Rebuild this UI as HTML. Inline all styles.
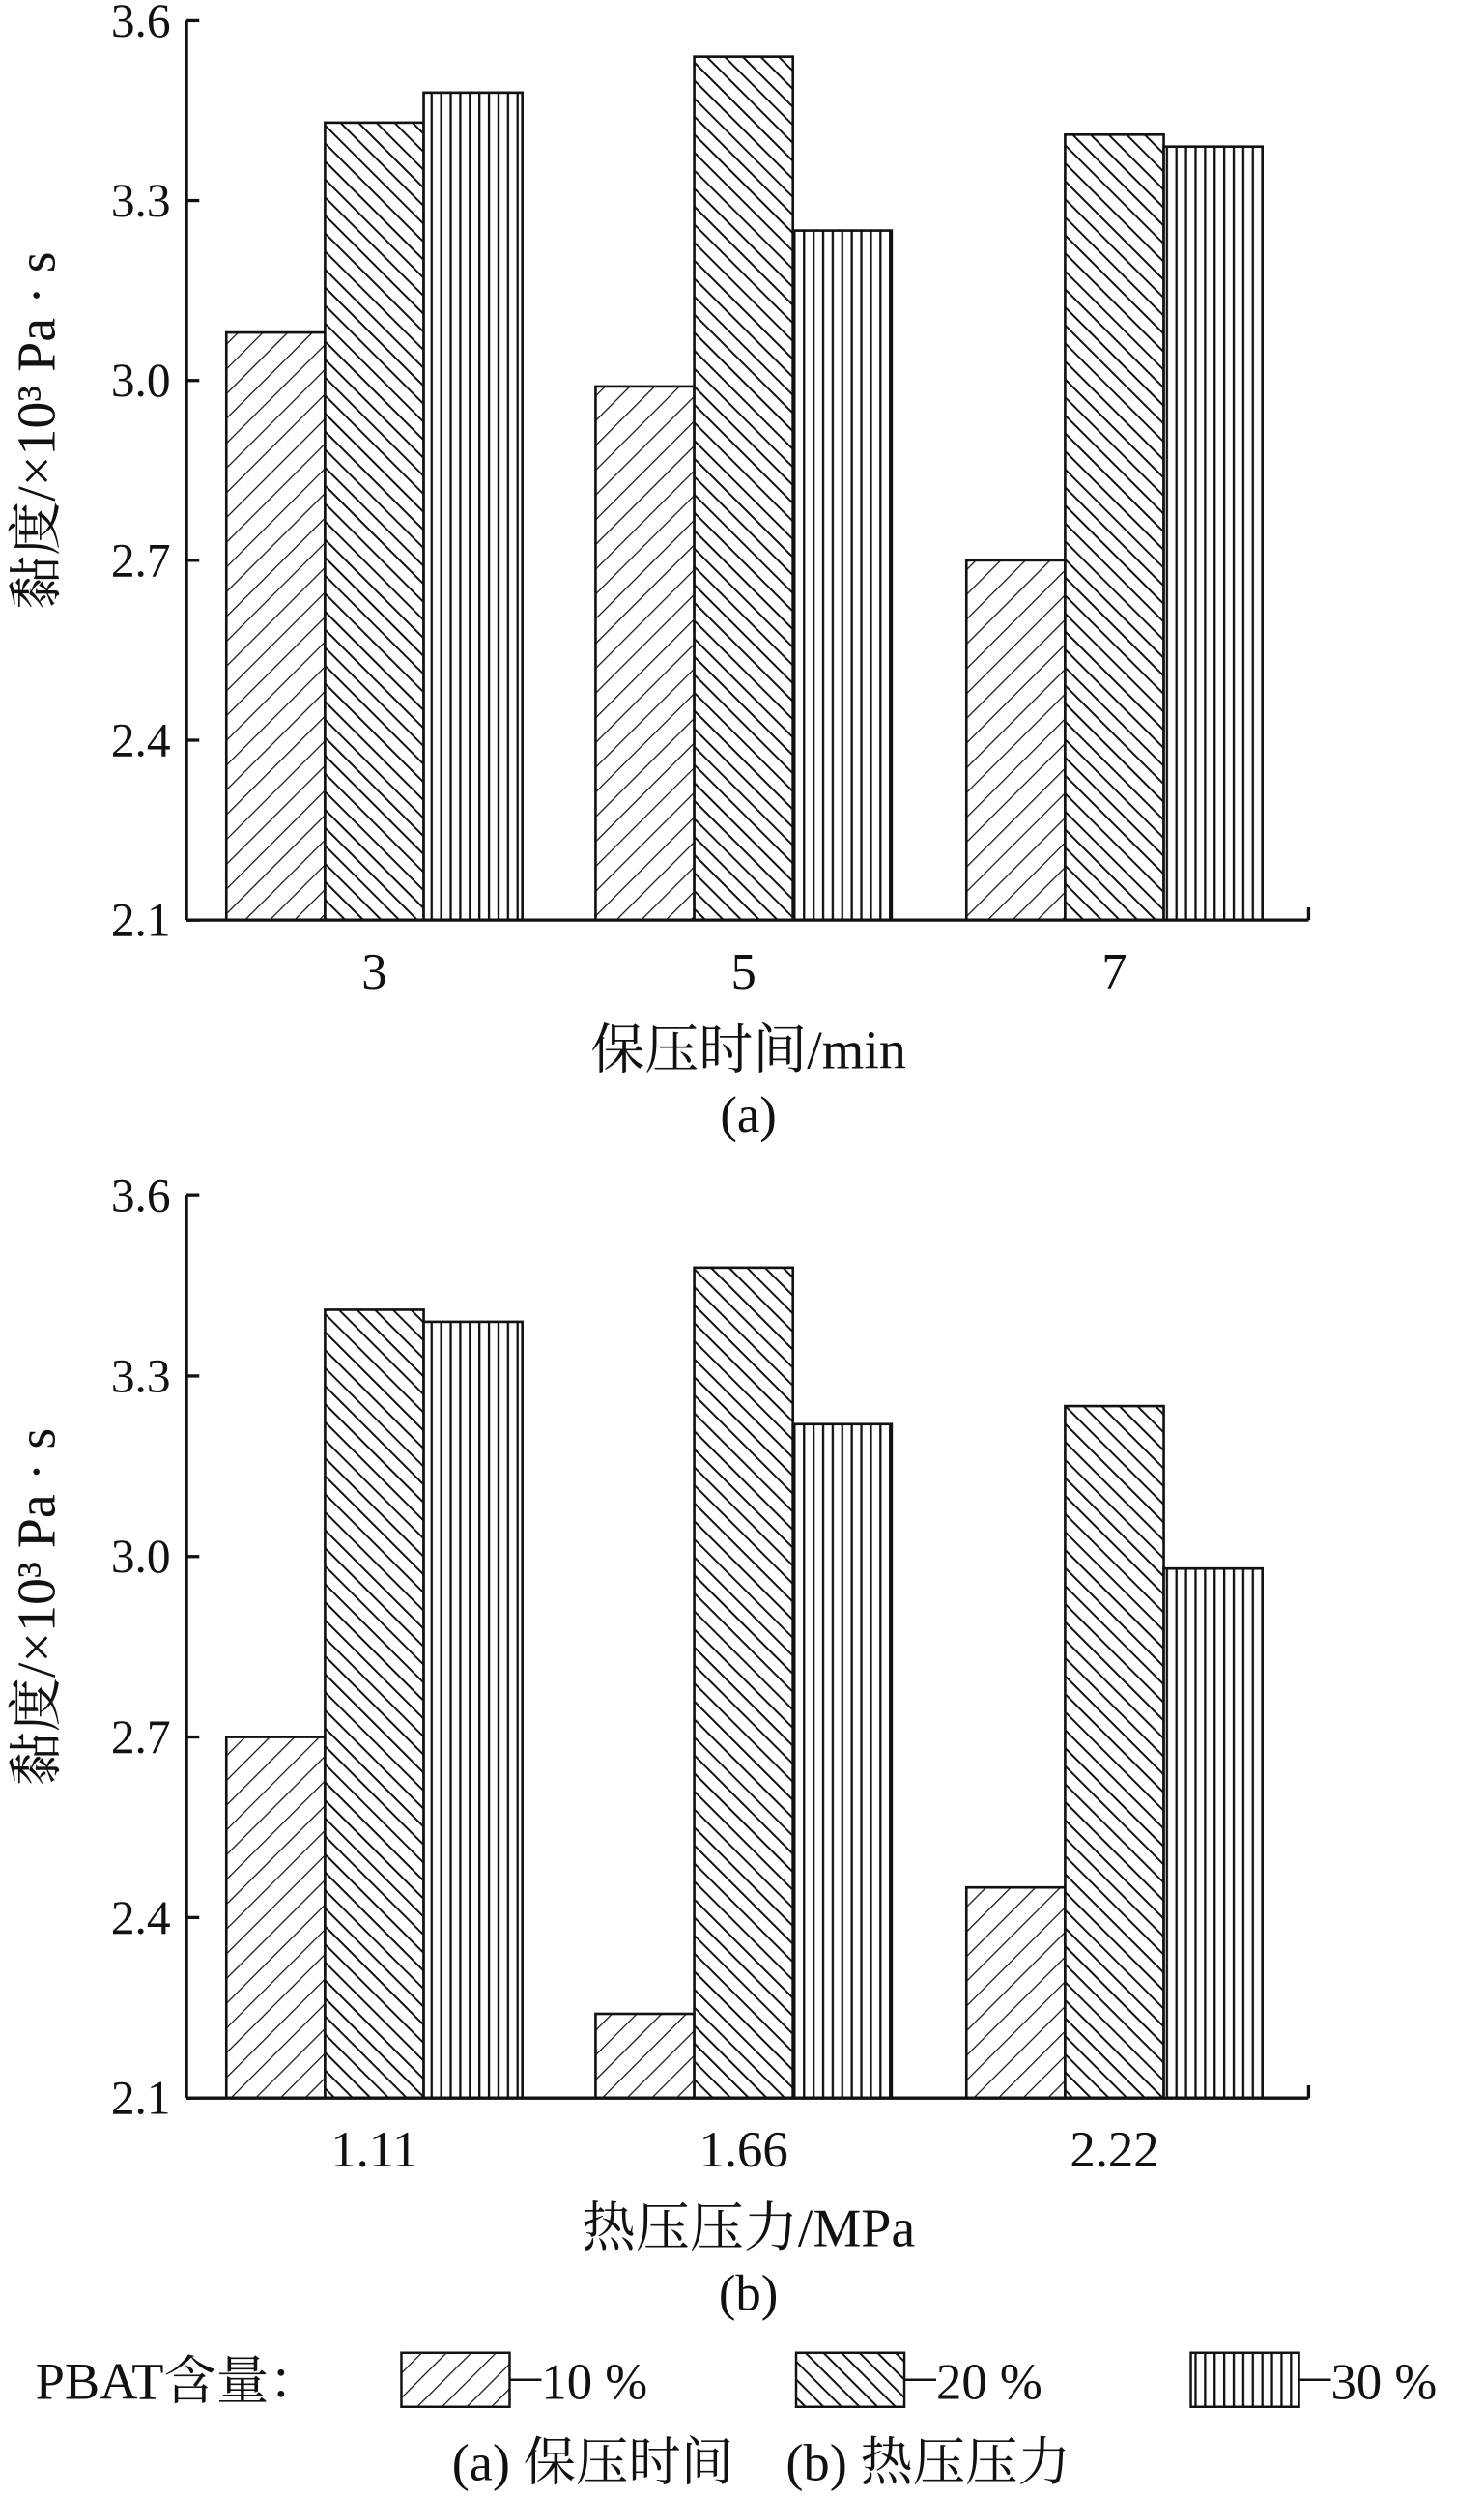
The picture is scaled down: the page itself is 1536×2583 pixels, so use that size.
<!DOCTYPE html>
<html><head><meta charset="utf-8"><style>
html,body{margin:0;padding:0;background:#fff;}
svg{display:block;}
text{font-family:"Liberation Serif","Noto Serif CJK SC","Noto Sans CJK SC",serif;fill:#111;}
</style></head><body>
<svg id="chart" width="1536" height="2583" viewBox="0 0 932 1568" xmlns="http://www.w3.org/2000/svg">
<defs>
<pattern id="p10" patternUnits="userSpaceOnUse" width="11" height="11" patternTransform="rotate(45)"><rect width="11" height="11" fill="#fff"/><line x1="0" y1="0" x2="0" y2="11" stroke="#111" stroke-width="1.5"/></pattern>
<pattern id="p20" patternUnits="userSpaceOnUse" width="8" height="8" patternTransform="rotate(-45)"><rect width="8" height="8" fill="#fff"/><line x1="0" y1="0" x2="0" y2="8" stroke="#111" stroke-width="2.4"/></pattern>
<pattern id="p30" patternUnits="userSpaceOnUse" width="6" height="6"><rect width="6" height="6" fill="#fff"/><line x1="1" y1="0" x2="1" y2="6" stroke="#111" stroke-width="1.4"/></pattern>
</defs>
<g id="plots"></g>
<g>
<text x="22" y="1507" font-size="33">PBAT含量：</text>
<rect x="252" y="1478" width="68" height="34" fill="url(#p10)" stroke="#111" stroke-width="1.5"/>
<line x1="320" y1="1495" x2="340" y2="1495" stroke="#111" stroke-width="1.5"/>
<text x="340" y="1507" font-size="32">10 %</text>
<rect x="500" y="1478" width="68" height="34" fill="url(#p20)" stroke="#111" stroke-width="1.5"/>
<line x1="568" y1="1495" x2="588" y2="1495" stroke="#111" stroke-width="1.5"/>
<text x="588" y="1507" font-size="32">20 %</text>
<rect x="748" y="1478" width="68" height="34" fill="url(#p30)" stroke="#111" stroke-width="1.5"/>
<line x1="816" y1="1495" x2="836" y2="1495" stroke="#111" stroke-width="1.5"/>
<text x="836" y="1507" font-size="32">30 %</text>
<text x="478" y="1558" font-size="33" text-anchor="middle">(a) 保压时间　(b) 热压压力</text>
</g>
</svg>
<script>
const seriesNames = ['10 %','20 %','30 %'];
const catsA = ['3','5','7'];
const valsA10 = [3.08, 2.99, 2.70];
const valsA20 = [3.43, 3.54, 3.41];
const valsA30 = [3.48, 3.25, 3.39];
const catsB = ['1.11','1.66','2.22'];
const valsB10 = [2.70, 2.24, 2.45];
const valsB20 = [3.41, 3.48, 3.25];
const valsB30 = [3.39, 3.22, 2.98];
const yTicks = ['2.1','2.4','2.7','3.0','3.3','3.6'];
const NS='http://www.w3.org/2000/svg';
const root=document.getElementById('plots');
function mk(tag,attrs,parent){const e=document.createElementNS(NS,tag);for(const k in attrs)e.setAttribute(k,attrs[k]);parent.appendChild(e);return e;}
function panel(id,top,bottom,cats,series,xTitle,label){
  const g=mk('g',{},root);
  
  
  const x0=117,x1=822,ymin=2.1,ymax=3.6;
  const y=v=>bottom-(v-ymin)/(ymax-ymin)*(bottom-top);
  const groupStart=[142,374,607], bw=62;
  const pats=['url(#p10)','url(#p20)','url(#p30)'];
  cats.forEach((c,i)=>{
    series.forEach((s,j)=>{
      const bx=groupStart[i]+j*bw, by=y(s[i]);
      const r=mk('rect',{x:bx,y:by,width:bw,height:bottom-by,fill:pats[j],stroke:'#111','stroke-width':1.6},g);
      
      
    });
    const t=mk('text',{x:groupStart[i]+bw*1.5,y:bottom+43,'font-size':32,'text-anchor':'middle'},g);
    t.textContent=c;
    
    
  });
  mk('line',{x1:x0,y1:top,x2:x0,y2:bottom,stroke:'#111','stroke-width':2},g);
  mk('line',{x1:x0,y1:bottom,x2:x1,y2:bottom,stroke:'#111','stroke-width':2},g);
  mk('line',{x1:x1,y1:bottom,x2:x1,y2:bottom-8,stroke:'#111','stroke-width':2},g);
  yTicks.forEach(tv=>{
    const yy=y(parseFloat(tv));
    mk('line',{x1:x0,y1:yy,x2:x0+8,y2:yy,stroke:'#111','stroke-width':2},g);
    const t=mk('text',{x:x0-10,y:yy+10,'font-size':30,'text-anchor':'end'},g);
    t.textContent=tv;
    
    
  });
  const yl=mk('text',{x:0,y:0,'font-size':34,'text-anchor':'middle',transform:`translate(34,${(top+bottom)/2-25}) rotate(-90)`},g);
  yl.textContent='黏度/×10³ Pa · s';
  
  
  const xt=mk('text',{x:470,y:bottom+93,'font-size':34,'text-anchor':'middle'},g);
  xt.textContent=xTitle;
  
  
  const pl=mk('text',{x:470,y:bottom+133,'font-size':32,'text-anchor':'middle'},g);
  pl.textContent=label;
  
  
}
panel('panel-a',13,578,catsA,[valsA10,valsA20,valsA30],'保压时间/min','(a)');
panel('panel-b',751,1318,catsB,[valsB10,valsB20,valsB30],'热压压力/MPa','(b)');
</script>
</body></html>
